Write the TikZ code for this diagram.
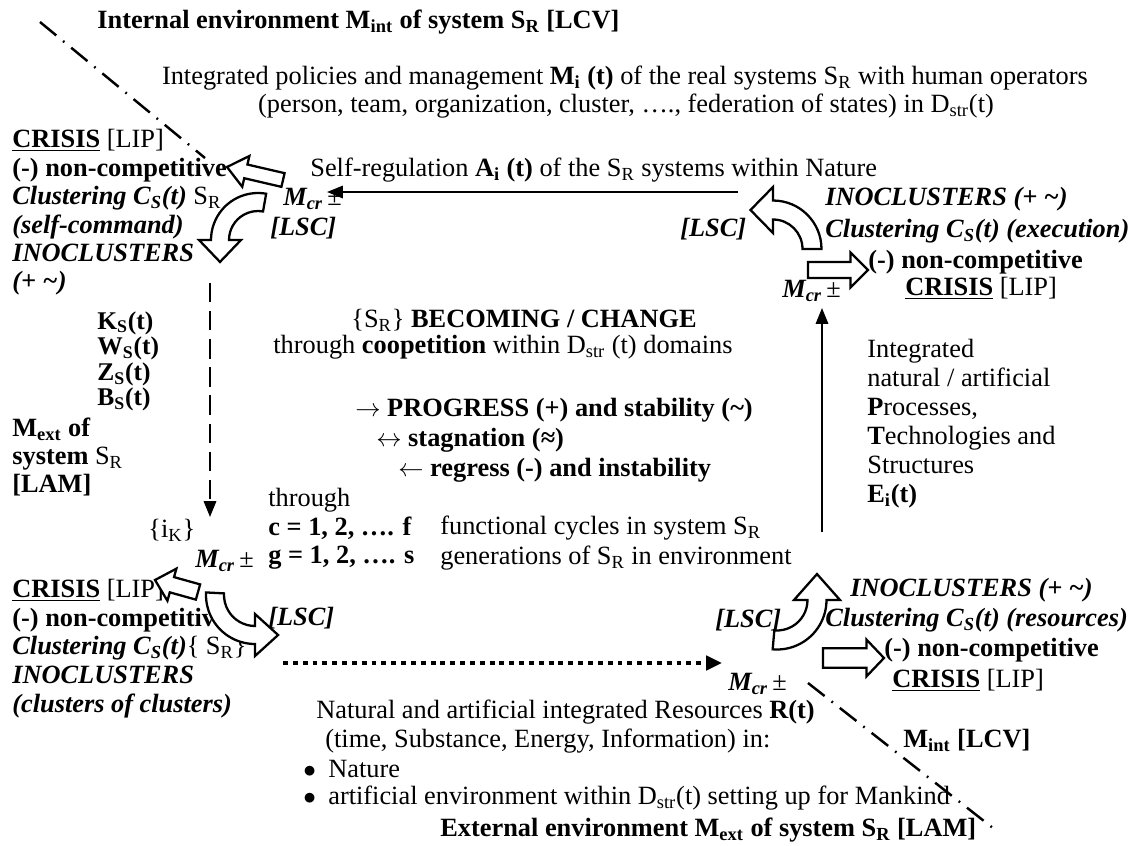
\documentclass[tikz,border=0pt]{standalone}
\usepackage{fontspec}
\setmainfont{Liberation Serif}
\usetikzlibrary{arrows.meta, calc, positioning}

\newcommand{\SR}{S\textsubscript{R}}
\newcommand{\Dstr}{D\textsubscript{str}}
\newcommand{\CS}{C\textsubscript{S}}
\newcommand{\bfit}[1]{\textbf{\textit{#1}}}
\newcommand{\Mcr}{\textbf{\textit{M\textsubscript{cr}}}\,±}

% straight hollow arrow: tail, tip, shaft half width, head half width, head length
\newcommand{\flatarrow}[5]{%
  \coordinate (fa-t) at #1; \coordinate (fa-p) at #2;
  \coordinate (fa-b) at ($(fa-p)!#5!(fa-t)$);
  \draw[hollow] ($(fa-t)!#3!90:(fa-p)$) -- ($(fa-b)!#3!90:(fa-p)$) -- ($(fa-b)!#4!90:(fa-p)$)
    -- (fa-p) -- ($(fa-b)!#4!-90:(fa-p)$) -- ($(fa-b)!#3!-90:(fa-p)$)
    -- ($(fa-t)!#3!-90:(fa-p)$) -- cycle;}

% bent hollow arrow: centre, radius, start, end, tip angle, shaft half, head half
\newcommand{\bendarrow}[7]{%
  \pgfmathsetmacro{\bao}{#2+#6}\pgfmathsetmacro{\bai}{#2-#6}%
  \pgfmathsetmacro{\bho}{#2+#7}\pgfmathsetmacro{\bhi}{#2-#7}%
  \pgfmathsetmacro{\btr}{#2/cos(#5-#4)}%
  \draw[hollow] ($#1+(#3:\bao)$) arc[start angle=#3, end angle=#4, radius=\bao]
    -- ($#1+(#4:\bho)$) -- ($#1+(#5:\btr)$) -- ($#1+(#4:\bhi)$)
    -- ($#1+(#4:\bai)$) arc[start angle=#4, end angle=#3, radius=\bai] -- cycle;}

\begin{document}
\fontsize{15}{16.2}\selectfont
\begin{tikzpicture}[x=0.02cm, y=-0.02cm,
    txt/.style={anchor=west, inner sep=0pt},
    blk/.style={anchor=north west, inner sep=0pt, align=left},
    hollow/.style={draw, fill=white, line width=1.3pt, line join=miter},
    flow/.style={-{Triangle[length=9pt,width=7pt]}, line width=1.2pt},
    boundary/.style={line width=1.4pt, dash pattern=on 12pt off 5pt on 1pt off 5pt}
]
    \useasboundingbox (0,0) rectangle (1134,846);

    % environment borders
    \draw[boundary] (40,22) -- (205,158);
    \draw[boundary] (808,683) -- (998,832);

    % top
    \node[txt, font=\bfseries] (intenv) at (97,22) {Internal environment M\textsubscript{int} of system \SR{} [LCV]};
    \node[inner sep=0pt] (policy) at (625,78) {Integrated policies and management \textbf{M\textsubscript{i} (t)} of the real systems \SR{} with human operators};
    \node[inner sep=0pt] (policy2) at (626,106) {(person, team, organization, cluster, …., federation of states) in \Dstr(t)};
    \node[txt] (selfreg) at (310,170) {Self-regulation \textbf{A\textsubscript{i} (t)} of the \SR{} systems within Nature};

    % upper left
    \node[blk, font=\fontsize{15}{16.2}\selectfont] (ltblk) at (12,129) {\underline{\textbf{CRISIS}} [LIP]\\
        \textbf{(-) non-competitive}\\
        \bfit{Clustering \CS(t)} \SR\\
        \bfit{(self-command)}\\
        \bfit{INOCLUSTERS}\\
        \bfit{(+ \textasciitilde)}};
    \node[txt] (mcrA) at (283,199) {\Mcr};
    \node[txt] (lscA) at (270,228) {\bfit{[LSC]}};

    % upper right
    \node[txt] (lscB) at (680,229) {\bfit{[LSC]}};
    \node[blk, font=\fontsize{15}{18.2}\selectfont] (rtblk) at (825,187) {\bfit{INOCLUSTERS (+ \textasciitilde)}\\
        \bfit{Clustering \CS(t) (execution)}};
    \node[txt, font=\bfseries] (ncB) at (868,262) {(-) non-competitive};
    \node[txt] (crB) at (905,288) {\underline{\textbf{CRISIS}} [LIP]};
    \node[txt] (mcrB) at (782,291) {\Mcr};

    % centre
    \node[inner sep=0pt] (becoming) at (524,320) {\{\SR\} \textbf{BECOMING / CHANGE}};
    \node[inner sep=0pt] (coop) at (503,347) {through \textbf{coopetition} within \Dstr{} (t) domains};
    \node[txt] (progress) at (355,410) {$\rightarrow$ \textbf{PROGRESS (+) and stability (\textasciitilde)}};
    \node[txt] (stag) at (376,440) {$\leftrightarrow$ \textbf{stagnation (≈)}};
    \node[txt] (regress) at (398,470) {$\leftarrow$ \textbf{regress (-) and instability}};
    \node[txt] (through) at (268,500) {through};
    \node[txt, font=\bfseries] (cline) at (268,528) {c = 1, 2, …. f};
    \node[txt, font=\bfseries] (gline) at (268,558) {g = 1, 2, …. s};
    \node[txt] (cdesc) at (440,528) {functional cycles in system \SR};
    \node[txt] (gdesc) at (440,558) {generations of \SR{} in environment};

    % left column
    \node[blk, font=\fontsize{14.5}{14.6}\selectfont\bfseries] (kblk) at (97,311) {K\textsubscript{S}(t)\\W\textsubscript{S}(t)\\Z\textsubscript{S}(t)\\B\textsubscript{S}(t)};
    \node[blk, font=\fontsize{15}{15.9}\selectfont] (mext) at (12,418) {\textbf{M\textsubscript{ext} of}\\\textbf{system} \SR\\\textbf{[LAM]}};
    \node[txt] (ik) at (148,530) {\{i\textsubscript{K}\}};
    \node[txt] (mcrC) at (195,561) {\Mcr};

    % lower left
    \node[blk, font=\fontsize{15}{16.3}\selectfont] (lbblk) at (12,579) {\underline{\textbf{CRISIS}} [LIP]\\
        \textbf{(-) non-competitive}\\
        \bfit{Clustering \CS(t)}\{ \SR\}\\
        \bfit{INOCLUSTERS}\\
        \bfit{(clusters of clusters)}};
    \node[txt] (lscC) at (268,618) {\bfit{[LSC]}};

    % lower right
    \node[txt] (lscD) at (715,620) {\bfit{[LSC]}};
    \node[txt] (mcrD) at (728,684) {\Mcr};
    \node[txt] (inoD) at (850,590) {\bfit{INOCLUSTERS (+ \textasciitilde)}};
    \node[txt] (clusD) at (825,620) {\bfit{Clustering \CS(t) (resources)}};
    \node[txt, font=\bfseries] (ncD) at (884,650) {(-) non-competitive};
    \node[txt] (crD) at (892,680) {\underline{\textbf{CRISIS}} [LIP]};
    \node[txt, font=\bfseries] (mintB) at (903,740) {M\textsubscript{int} [LCV]};

    % right column
    \node[blk, font=\fontsize{15}{16.5}\selectfont] (procblk) at (867,339) {Integrated\\natural / artificial\\
        \textbf{P}rocesses,\\\textbf{T}echnologies and\\Structures\\\textbf{E\textsubscript{i}(t)}};

    % bottom
    \node[txt] (res) at (316,712) {Natural and artificial integrated Resources \textbf{R(t)}};
    \node[txt] (res2) at (325,741) {(time, Substance, Energy, Information) in:};
    \node[txt] (bul1) at (303,769) {$\bullet$\hspace{7pt}Nature};
    \node[txt] (bul2) at (303,798) {$\bullet$\hspace{7pt}artificial environment within \Dstr(t) setting up for Mankind};
    \node[txt, font=\bfseries] (extenv) at (440,830) {External environment M\textsubscript{ext} of system \SR{} [LAM]};

    % cycle connectors
    \coordinate (regA) at (738,192);
    \coordinate (regB) at (327,192);
    \coordinate (downA) at (210,283);
    \coordinate (downB) at (210,517);
    \coordinate (resA) at (283,663);
    \coordinate (resB) at (722,663);
    \coordinate (upA) at (822,532);
    \coordinate (upB) at (822,308);
    \draw[flow] (regA) -- (regB);
    \draw[flow, dash pattern=on 11pt off 5pt] (downA) -- (downB);
    \draw[-{Triangle[length=9pt,width=8pt]}, line width=2.8pt, dash pattern=on 2.8pt off 2.8pt] (resA) -- (resB);
    \draw[flow] (upA) -- (upB);

    % hollow arrows
    \flatarrow{(283,180)}{(227,167)}{4pt}{9pt}{11pt}
    \bendarrow{(258,240)}{38}{-80}{-180}{-210}{9}{21}
    \bendarrow{(773,249)}{39}{0}{-90}{-120}{9.5}{23}
    \flatarrow{(808,270)}{(868,270)}{4.5pt}{10pt}{10pt}
    \flatarrow{(198,592)}{(155,580)}{4.5pt}{9.5pt}{10pt}
    \bendarrow{(255,595)}{40}{183}{90}{60}{9}{21}
    \bendarrow{(777,600)}{40}{95}{0}{-33}{9.5}{23}
    \flatarrow{(823,658)}{(884,658)}{5.5pt}{10.5pt}{10pt}
\end{tikzpicture}
\end{document}
